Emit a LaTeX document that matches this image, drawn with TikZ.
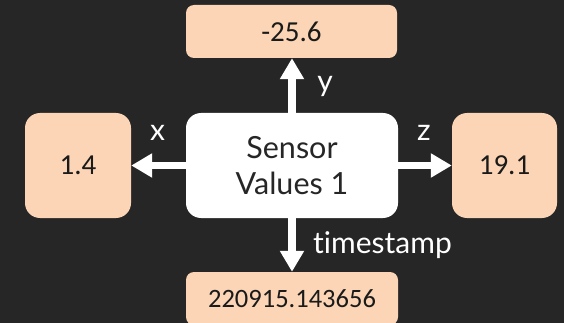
\documentclass[tikz,border=0pt]{standalone}
\usepackage{fontspec}
\setmainfont[Ligatures=NoCommon]{Lato}
\newfontfamily\valfont{Carlito}
\usetikzlibrary{arrows.meta}
\definecolor{bgc}{HTML}{262626}
\definecolor{peach}{HTML}{FBD5B5}
\definecolor{inkc}{HTML}{1A1A1A}
\tikzset{
  valbox/.style={rectangle, fill=peach, inner sep=0pt, text=inkc, font=\valfont\fontsize{29}{34}\selectfont},
  centerbox/.style={rectangle, fill=white, inner sep=0pt, rounded corners=15pt, text=bgc, align=center, font=\fontsize{30.5}{36}\selectfont},
  arr/.style={draw=white, line width=7.5pt, -{Triangle[width=23pt,length=21pt]}},
  lbl/.style={text=white, inner sep=0pt, anchor=base, font=\fontsize{30}{34}\selectfont}
}
\begin{document}
\begin{tikzpicture}[x=1pt,y=-1pt]
\fill[bgc] (0,0) rectangle (564,323);
\useasboundingbox (0,0) rectangle (564,323);
\begin{scope}
\clip (0,0) rectangle (564,323);
\node[centerbox, minimum width=212pt, minimum height=105pt] (c) at (292,165.5) {Sensor\\Values 1};
\node[valbox, rounded corners=8pt, minimum width=211pt, minimum height=53pt] (top) at (291.5,31.5) {-25.6};
\node[valbox, rounded corners=15pt, minimum width=106pt, minimum height=105pt] (left) at (78,165.5) {1.4};
\node[valbox, rounded corners=15pt, minimum width=105pt, minimum height=105pt] (right) at (504.5,165.5) {19.1};
\node[valbox, rounded corners=8pt, minimum width=212pt, minimum height=53pt, font=\valfont\fontsize{26.5}{30}\selectfont] (bot) at (292,298.5) {220915.143656};
\draw[arr] (c.north) -- (c.north |- top.south);
\draw[arr] (c.west) -- (left.east);
\draw[arr] (c.east) -- (right.east -| right.west);
\draw[arr] (c.south) -- (c.south |- bot.north);
\node[lbl] (ly) at (325,92) {y};
\node[lbl] (lx) at (157.5,141) {x};
\node[lbl] (lz) at (424,141) {z};
\node[lbl, anchor=base west] (lt) at (313,253) {timestamp};
\end{scope}
\end{tikzpicture}
\end{document}
